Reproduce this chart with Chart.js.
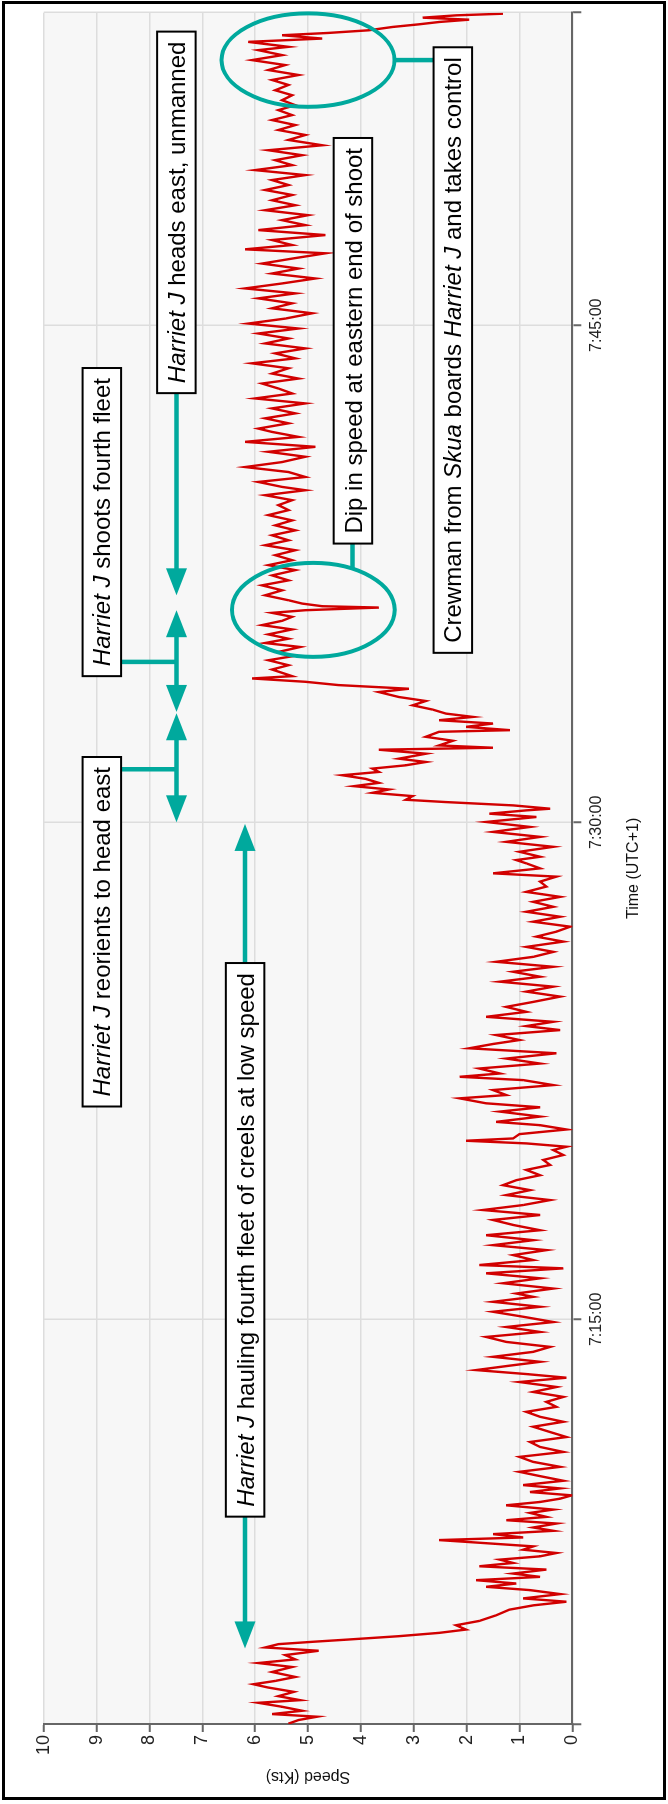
<!DOCTYPE html>
<html>
<head>
<meta charset="utf-8">
<title>Harriet J speed</title>
<script src="https://cdn.jsdelivr.net/npm/chart.js@4.4.1/dist/chart.umd.min.js"></script>
<style>
  html, body { margin: 0; padding: 0; width: 668px; height: 1804px; overflow: hidden; background: #fff; }
  /* the chart is drawn landscape and turned a quarter turn anticlockwise */
  #turn { position: absolute; left: 0; top: 0; width: 1804px; height: 668px;
          transform-origin: 0 0; transform: translate(0, 1804px) rotate(-90deg); }
  #frame { position: absolute; left: 2px; top: 1px; width: 664px; height: 1799px;
           border: 3px solid #000; box-sizing: border-box; pointer-events: none; }
</style>
</head>
<body>
<div id="turn"><canvas id="speedChart" width="1804" height="668"></canvas></div>
<div id="frame"></div>
<script>
// minutes after 7:00 (UTC+1)
const timeMin = [
  2.80,2.91,3.01,3.09,3.19,3.31,3.43,3.51,3.63,3.76, 3.89,3.99,4.09,4.21,4.36,4.51,4.63,4.74,4.87,5.00,
  5.10,5.20,5.27,5.34,5.44,5.54,5.64,5.77,5.90,6.07, 6.24,6.37,6.48,6.58,6.71,6.83,6.93,7.03,7.13,7.23,
  7.33,7.45,7.55,7.65,7.75,7.85,7.95,8.05,8.15,8.26, 8.34,8.42,8.52,8.62,8.72,8.84,8.94,9.04,9.16,9.26,
  9.39,9.49,9.59,9.69,9.79,9.90,10.00,10.13,10.27,10.40, 10.55,10.70,10.85,11.00,11.15,11.30,11.45,11.60,11.76,11.91,
  12.06,12.21,12.36,12.51,12.66,12.81,12.96,13.11,13.24,13.35, 13.47,13.59,13.72,13.87,14.02,14.17,14.32,14.47,14.62,14.77,
  14.92,15.08,15.23,15.38,15.53,15.68,
  15.78,15.93,16.09,16.24,16.39,16.54,16.64,16.79,16.94,17.09, 17.24,17.39,17.54,17.69,17.85,18.00,18.15,18.30,18.45,18.60,
  18.75,18.90,19.05,19.20,19.35,19.51,19.66,19.81,19.96,20.11, 20.21,20.31,20.39,20.46,20.59,20.73,20.86,20.96,21.12,21.27,
  21.40,21.52,21.67,21.77,21.92,22.07,22.22,22.32,22.42,22.57, 22.72,22.87,23.03,23.18,23.31,23.43,23.58,23.73,23.85,23.98,
  24.13,24.28,24.43,24.58,24.74,24.89,25.04,25.19,25.34,25.49, 25.64,25.79,25.94,26.09,26.24,26.40,26.55,26.70,26.85,27.00,
  27.15,27.30,27.45,27.60,27.75,27.90,28.06,28.21,28.36,28.46, 28.61,28.76,
  28.86,28.96,29.11,29.26,29.41,29.56,29.71,29.86,30.01,30.16,30.26,30.36,
  30.41,30.51,30.61,30.68,30.79,30.89,30.99,31.09,31.19,31.31, 31.42,31.52,31.62,31.72,31.82,31.92,32.07,32.19,32.25,32.32,
  32.46,32.58,32.73,32.78,32.88,32.98,33.08,33.18,33.28,33.40, 33.53,33.66,33.78,33.93,34.03,34.14,34.24,34.34,34.41,
  34.61,34.74,34.89,35.01,35.14,35.29,35.41,35.54,35.67,35.82, 35.95,36.08,36.20,36.32,36.40,36.48,36.52,36.60,36.70,36.85,
  37.00,37.15,37.30,37.45,37.61,37.76,37.91,38.06,38.21,38.36, 38.51,38.66,38.81,38.96,39.11,39.27,39.42,39.57,39.72,39.87,
  40.02,40.12,40.27,40.42,40.57,40.72,40.87,41.03,41.18,41.33, 41.48,41.63,41.78,
  41.88,42.04,42.19,42.34,42.49,42.64,42.79,42.94,43.09,43.24, 43.39,43.54,43.70,43.85,44.00,44.15,44.30,44.45,44.60,44.75,
  44.90,45.05,45.20,45.36,45.51,45.66,45.81,45.96,46.11,46.26, 46.41,46.56,46.71,46.86,47.01,47.17,47.29,47.42,47.57,47.72,
  47.87,48.02,48.17,48.32,48.47,48.62,48.77,48.93,49.08,49.23, 49.38,49.53,49.68,49.83,49.98,50.13,50.28,50.43,50.59,50.74,
  50.89,51.04,51.19,51.34,51.49,51.64,51.79,51.94,52.09,52.25, 52.40,52.55,52.70,52.85,53.00,53.15,53.30,53.40,53.55,53.65,
  53.75,53.82,53.90,54.00,54.08,54.15,54.22,54.28,54.35,54.40
];
const speedKts = [
  5.37,5.18,4.83,5.68,5.11,5.49,5.94,5.15,5.56,5.27, 5.75,6.03,5.62,5.24,5.68,5.30,5.94,5.24,5.43,4.80,
  5.81,5.56,4.92,4.23,3.28,2.52,2.01,2.20,1.76,1.44, 1.19,0.74,0.11,0.93,0.23,0.80,1.63,1.06,1.82,0.61,
  1.12,0.49,1.76,1.12,1.37,0.61,0.30,0.93,0.74,1.76, 2.52,0.93,1.50,0.36,0.74,0.30,1.25,0.49,0.80,0.36,
  1.25,0.61,0.23,0.01,0.80,0.23,0.93,0.17,0.61,1.00, 0.23,0.74,1.00,0.17,0.61,0.80,0.11,0.42,0.74,0.17,
  0.61,0.87,0.30,0.49,0.17,0.74,0.30,1.00,0.11,0.87, 1.82,1.25,0.61,1.50,0.74,0.42,1.25,1.63,0.61,1.25,
  0.36,0.93,1.50,0.61,1.50,0.74,
  1.06,0.36,1.31,0.61,1.63,0.17,1.76,0.74,1.12,0.49, 1.50,0.74,1.63,0.61,1.12,1.50,0.61,1.69,0.93,0.42,
  1.25,0.80,1.31,1.06,0.61,0.87,0.42,0.55,0.17,0.36, 0.11,0.87,2.01,1.12,1.00,0.11,0.61,1.44,0.61,1.37,
  0.61,1.63,2.13,1.25,1.50,0.36,0.93,2.13,1.37,1.76, 0.61,1.25,0.30,1.95,1.50,1.00,1.44,0.23,0.87,0.36,
  1.63,0.87,1.25,0.74,0.23,0.87,0.36,1.37,0.61,1.12, 0.36,1.44,0.74,0.36,0.87,0.17,0.68,0.30,0.04,0.74,
  0.23,0.87,0.36,0.74,0.23,0.87,0.49,0.61,0.30,1.50, 0.61,0.87,
  1.06,0.61,1.00,0.36,1.25,0.61,1.50,0.80,1.63,0.68,1.57,0.87,
  0.42,1.12,2.39,3.15,3.02,3.78,3.47,4.13,3.66,3.91, 4.35,3.66,3.78,3.15,2.77,3.28,2.77,3.66,1.50,2.52,
  2.26,2.77,2.52,1.18,2.01,1.50,2.52,1.88,2.39,2.64, 3.02,2.77,3.28,3.66,3.09,4.42,5.05,6.06,5.30,
  5.68,5.37,5.75,5.30,5.56,5.15,5.81,5.37,5.75,5.30, 5.87,5.49,5.30,5.68,5.05,3.66,4.73,5.11,5.37,5.81,
  5.49,5.87,5.37,5.68,5.24,5.75,5.30,5.62,5.24,5.81, 5.37,5.68,5.24,5.62,5.30,5.75,5.37,5.56,5.30,5.81,
  5.05,5.49,5.94,5.05,5.37,6.19,5.49,5.05,5.75,4.86, 6.19,5.18,5.68,
  5.94,5.37,5.81,5.24,5.68,5.05,6.00,5.30,5.56,5.87, 5.18,5.68,5.37,6.06,5.24,5.62,5.05,5.81,5.37,5.94,
  5.18,6.13,5.43,4.92,5.68,5.30,5.94,5.24,6.19,5.49, 4.86,5.68,5.18,5.87,5.30,4.67,6.19,5.30,5.68,4.67,
  5.94,5.05,5.49,5.00,5.81,5.24,5.68,5.30,5.81,5.37, 5.68,5.05,6.00,5.30,5.62,5.11,5.75,4.73,5.37,5.05,
  5.56,5.24,5.68,5.30,5.56,5.24,5.49,5.30,5.62,5.37, 5.68,5.18,5.75,5.43,6.06,5.49,5.94,5.37,6.13,4.73,
  5.49,4.61,3.85,3.40,2.90,2.52,1.95,2.83,2.20,1.31
];
if (timeMin.length !== speedKts.length) {
  throw new Error('length mismatch ' + timeMin.length + ' / ' + speedKts.length);
}

const timeRange = [2.79, 54.43];
const timeTicks = [15, 30, 45];
const timeTickLabels = ['7:15:00', '7:30:00', '7:45:00'];
const speedRange = [0, 10];

// callout texts: [text, italic]
const noteTexts = [
  [['Harriet J', true], [' hauling fourth fleet of creels at low speed', false]],
  [['Harriet J', true], [' reorients to head east', false]],
  [['Harriet J', true], [' shoots fourth fleet', false]],
  [['Harriet J', true], [' heads east, unmanned', false]],
  [['Dip in speed at eastern end of shoot', false]],
  [['Crewman from ', false], ['Skua', true], [' boards ', false], ['Harriet J', true], [' and takes control', false]]
];

// where the callouts sit, in chart units (minutes, knots)
const noteBoxes = [
  { t: 17.4, align: 'center', s: 6.19 },
  { t: 31.97, align: 'end', s: 8.9 },
  { t: 34.41, align: 'start', s: 8.9 },
  { t: 42.95, align: 'start', s: 7.49 },
  { t: 44.53, align: 'center', s: 4.15 },
  { t: 44.25, align: 'center', s: 2.26 }
];
const spanArrows = [
  { s: 6.19, t0: 5.07, t1: 29.95 },
  { s: 7.49, t0: 30.0, t1: 33.29 },
  { s: 7.49, t0: 33.33, t1: 36.40 },
  { s: 7.49, t0: 36.85, t1: 53.42 }
];
const rings = [
  { t: 53.0, s: 5.0, rt: 1.41, rs: 1.635 },
  { t: 36.41, s: 4.9, rt: 1.418, rs: 1.54 }
];

const teal = '#00a99d';
const FONT = "'Liberation Sans', Arial, sans-serif";

const plotBg = {
  id: 'plotBg',
  beforeDraw(chart) {
    const { ctx, chartArea: a } = chart;
    ctx.save();
    ctx.fillStyle = '#f7f7f7';
    ctx.fillRect(a.left, a.top, a.right - a.left, a.bottom - a.top);
    ctx.restore();
  }
};

function arrowHead(ctx, x, y, dir) {
  ctx.beginPath();
  ctx.moveTo(x, y);
  ctx.lineTo(x + dir * 27, y - 10.5);
  ctx.lineTo(x + dir * 27, y + 10.5);
  ctx.closePath();
  ctx.fill();
}

function drawNote(ctx, parts, box, xs, ys) {
  const size = 24, pad = 10, h = 38.5;
  let w = 0;
  parts.forEach(p => {
    ctx.font = (p[1] ? 'italic ' : '') + size + 'px ' + FONT;
    w += ctx.measureText(p[0]).width;
  });
  const full = w + pad * 2;
  const xp = xs.getPixelForValue(box.t);
  let left = xp - full / 2;
  if (box.align === 'end') left = xp - full;
  if (box.align === 'start') left = xp;
  const cy = ys.getPixelForValue(box.s);
  ctx.fillStyle = '#fff';
  ctx.fillRect(left, cy - h / 2, full, h);
  ctx.strokeStyle = '#000';
  ctx.lineWidth = 2;
  ctx.strokeRect(left, cy - h / 2, full, h);
  ctx.fillStyle = '#000';
  ctx.textBaseline = 'alphabetic';
  let x = left + pad;
  parts.forEach(p => {
    ctx.font = (p[1] ? 'italic ' : '') + size + 'px ' + FONT;
    ctx.fillText(p[0], x, cy + 8.6);
    x += ctx.measureText(p[0]).width;
  });
}

const notes = {
  id: 'notes',
  afterDatasetsDraw(chart) {
    const { ctx } = chart;
    const xs = chart.scales.x, ys = chart.scales.y;
    ctx.save();
    ctx.strokeStyle = teal;
    ctx.fillStyle = teal;
    ctx.lineWidth = 4.5;

    // connectors from the boxes
    const line = (x1, y1, x2, y2) => { ctx.beginPath(); ctx.moveTo(x1, y1); ctx.lineTo(x2, y2); ctx.stroke(); };
    line(xs.getPixelForValue(31.6), ys.getPixelForValue(8.9), xs.getPixelForValue(31.6), ys.getPixelForValue(7.49));
    line(xs.getPixelForValue(34.84), ys.getPixelForValue(8.9), xs.getPixelForValue(34.84), ys.getPixelForValue(7.49));

    const ringPx = rings.map(r => ({
      cx: xs.getPixelForValue(r.t), cy: ys.getPixelForValue(r.s),
      rx: Math.abs(xs.getPixelForValue(r.t + r.rt) - xs.getPixelForValue(r.t)),
      ry: Math.abs(ys.getPixelForValue(r.s + r.rs) - ys.getPixelForValue(r.s))
    }));
    // dip box down to lower ring
    {
      const e = ringPx[1];
      const y = ys.getPixelForValue(4.16);
      const dy = (y - e.cy) / e.ry;
      const xe = e.cx + e.rx * Math.sqrt(Math.max(0, 1 - dy * dy));
      line(xs.getPixelForValue(noteBoxes[4].t), y, xe, y);
    }
    // crewman box to upper ring
    {
      const e = ringPx[0];
      line(e.cx, ys.getPixelForValue(noteBoxes[5].s), e.cx, e.cy + e.ry);
    }

    spanArrows.forEach(a => {
      const y = ys.getPixelForValue(a.s);
      const x0 = xs.getPixelForValue(a.t0), x1 = xs.getPixelForValue(a.t1);
      line(x0 + 20, y, x1 - 20, y);
      arrowHead(ctx, x0, y, 1);
      arrowHead(ctx, x1, y, -1);
    });

    ctx.lineWidth = 4;
    ringPx.forEach(e => {
      ctx.beginPath();
      ctx.ellipse(e.cx, e.cy, e.rx, e.ry, 0, 0, Math.PI * 2);
      ctx.stroke();
    });

    noteTexts.forEach((parts, i) => drawNote(ctx, parts, noteBoxes[i], xs, ys));
    ctx.restore();
  }
};

new Chart(document.getElementById('speedChart'), {
  type: 'line',
  data: {
    datasets: [{
      data: timeMin.map((t, i) => ({ x: t, y: speedKts[i] })),
      borderColor: '#d10000',
      borderWidth: 2.4,
      pointRadius: 0,
      tension: 0,
      fill: false
    }]
  },
  options: {
    responsive: false,
    animation: false,
    devicePixelRatio: 1,
    layout: { padding: { left: 0, top: 43.7, right: 12.7, bottom: 0 } },
    plugins: { legend: { display: false }, tooltip: { enabled: false } },
    scales: {
      x: {
        type: 'linear',
        min: timeRange[0],
        max: timeRange[1],
        afterBuildTicks: s => { s.ticks = [timeRange[0], ...timeTicks, timeRange[1]].map(v => ({ value: v })); },
        afterFit: s => { s.height = 95.7; },
        ticks: {
          autoSkip: false, maxRotation: 0, padding: 6, color: '#222',
          font: { family: FONT, size: 16 },
          callback: v => { const i = timeTicks.indexOf(v); return i < 0 ? '' : timeTickLabels[i]; }
        },
        grid: { color: '#dddddd', lineWidth: 1.5, tickLength: 9, tickColor: '#666', tickWidth: 2 },
        border: { color: '#666', width: 2 },
        title: { display: true, text: 'Time (UTC+1)', color: '#111', font: { family: FONT, size: 16 }, padding: { top: 0, bottom: 25 } }
      },
      y: {
        min: speedRange[0],
        max: speedRange[1],
        afterFit: s => { s.width = 80; },
        ticks: { stepSize: 1, padding: 3, color: '#222', font: { family: FONT, size: 18 } },
        grid: { color: '#dddddd', lineWidth: 1.5, tickLength: 8, tickColor: '#666', tickWidth: 2 },
        border: { color: '#666', width: 2 },
        title: { display: true, text: 'Speed (Kts)', color: '#111', font: { family: FONT, size: 16 }, padding: { top: 18, bottom: 0 } }
      }
    }
  },
  plugins: [plotBg, notes]
});
</script>
</body>
</html>
